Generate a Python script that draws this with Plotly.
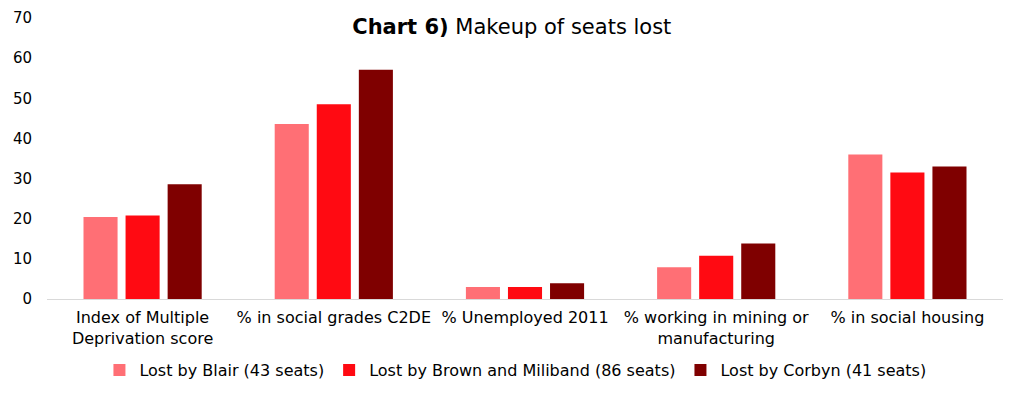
import plotly.graph_objects as go

categories = ["Index of Multiple<br>Deprivation score", "% in social grades C2DE", "% Unemployed 2011",
              "% working in mining or<br>manufacturing", "% in social housing"]
series_names = ["Lost by Blair (43 seats)", "Lost by Brown and Miliband (86 seats)", "Lost by Corbyn (41 seats)"]
blair = [20.4, 43.6, 3.0, 7.9, 36.0]
brown = [20.8, 48.5, 3.0, 10.8, 31.5]
corbyn = [28.6, 57.1, 3.9, 13.8, 33.0]
colors = ["#FF6F75", "#FF0A12", "#7F0000"]
y_ticks = [0, 10, 20, 30, 40, 50, 60, 70]

FONT = "DejaVu Sans"
fig = go.Figure()
for name, vals, c in zip(series_names, [blair, brown, corbyn], colors):
    fig.add_trace(go.Bar(x=categories, y=vals, name=name, marker=dict(color=c, line=dict(width=0))))

fig.update_layout(
    width=1024, height=397,
    margin=dict(l=39, r=29, t=10, b=106),
    paper_bgcolor="white", plot_bgcolor="white",
    barmode="group", bargap=0.34, bargroupgap=0.19,
    font=dict(family=FONT, size=14, color="#000"),
    title=dict(text="<b>Chart 6)</b> Makeup of seats lost", x=0.492, xanchor="center",
               y=0.952, yanchor="middle", font=dict(size=21, family=FONT)),
    showlegend=True,
    legend=dict(orientation="h", x=0.49, xanchor="center", y=-0.253, yanchor="middle",
                font=dict(size=16, family=FONT), itemwidth=30),
    xaxis=dict(showline=True, linecolor="#d9d9d9", linewidth=1, ticks="", tickfont=dict(size=16),
               automargin=False, ticklabelstandoff=4),
    yaxis=dict(range=[0, 70], tickvals=y_ticks, showgrid=False, zeroline=False, showline=False,
               tickfont=dict(size=15), ticklabelstandoff=14, automargin=False,
               ticklabeloverflow="allow"),
)
fig.write_html("out.html")
